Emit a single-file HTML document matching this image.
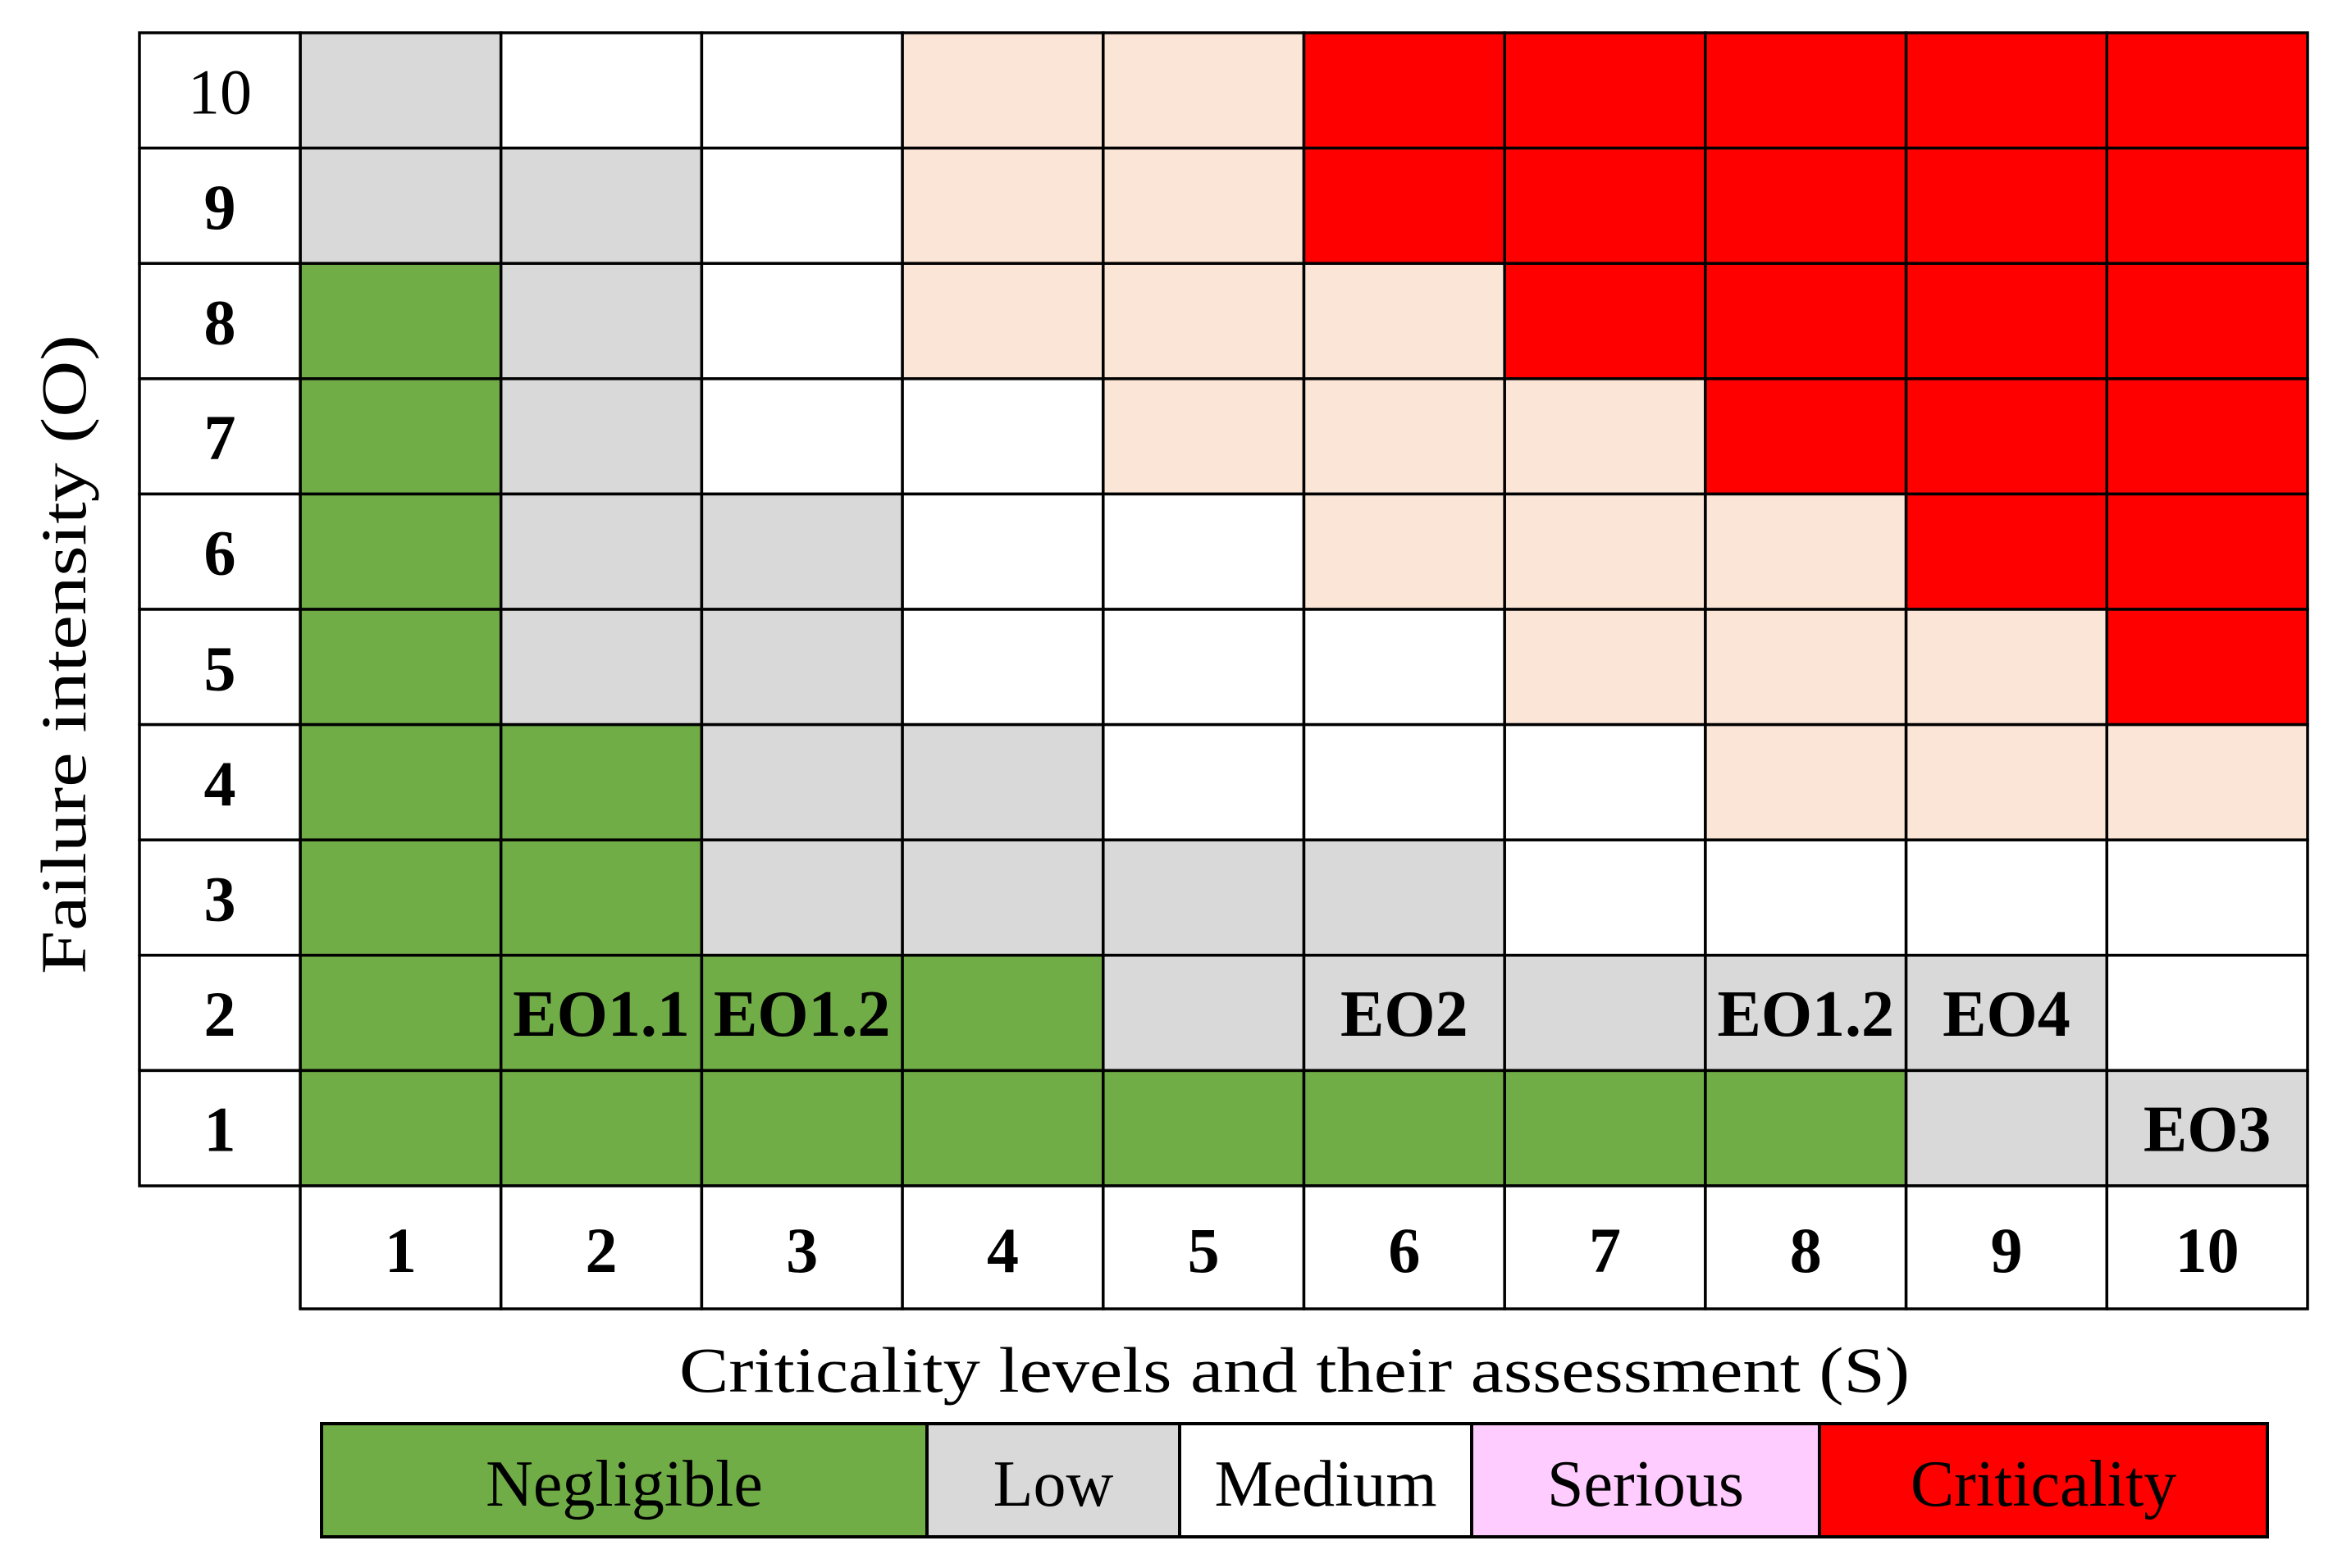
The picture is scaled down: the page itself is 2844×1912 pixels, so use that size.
<!DOCTYPE html>
<html><head><meta charset="utf-8">
<style>
html,body{margin:0;padding:0;background:#fff;}
body{width:2844px;height:1912px;position:relative;overflow:hidden;font-family:"Liberation Serif",serif;}
svg{position:absolute;left:0;top:0;}
</style></head>
<body>
<svg id="chart" width="2844" height="1912" viewBox="0 0 2844 1912"></svg>
<script>
const severityLabels = ["1","2","3","4","5","6","7","8","9","10"];
const occurrenceLabels = ["10","9","8","7","6","5","4","3","2","1"];
const matrixRows = [
 "LWWPPRRRRR",
 "LLWPPRRRRR",
 "GLWPPPRRRR",
 "GLWWPPPRRR",
 "GLLWWPPPRR",
 "GLLWWWPPPR",
 "GGLLWWWPPP",
 "GGLLLLWWWW",
 "GGGGLLLLLW",
 "GGGGGGGGLL"
];
const cellTags = [
 {o:"2",s:"2",t:"EO1.1"},{o:"2",s:"3",t:"EO1.2"},{o:"2",s:"6",t:"EO2"},
 {o:"2",s:"8",t:"EO1.2"},{o:"2",s:"9",t:"EO4"},{o:"1",s:"10",t:"EO3"}
];
const legendLabels = ["Negligible","Low","Medium","Serious","Criticality"];
const legendColors = ["#70ad47","#d9d9d9","#ffffff","#ffccff","#ff0000"];
const legendEdges = [392,1130,1438,1794,2218,2764];

const colors = {G:"#70ad47",L:"#d9d9d9",W:"#ffffff",P:"#fbe5d6",R:"#ff0000"};
const svg = document.getElementById('chart');
const NS = "http://www.w3.org/2000/svg";
const x0 = 366, x1 = 2813, y0 = 40, y1 = 1446, labelLeft = 170, xRowBottom = 1596;
const cw = (x1-x0)/severityLabels.length, ch = (y1-y0)/occurrenceLabels.length;
const xs = s => x0 + severityLabels.indexOf(s)*cw;
const ys = o => y0 + occurrenceLabels.indexOf(o)*ch;
function mk(tag, attrs){const e=document.createElementNS(NS,tag);for(const k in attrs)e.setAttribute(k,attrs[k]);svg.appendChild(e);return e;}

matrixRows.forEach((row,ri)=>{
  [...row].forEach((c,ci)=>{
    const r = mk('rect',{x:xs(severityLabels[ci]),y:ys(occurrenceLabels[ri]),width:cw,height:ch,fill:colors[c],stroke:"#000","stroke-width":3.5});
    
    
  });
});
occurrenceLabels.forEach(o=>{
  const r = mk('rect',{x:labelLeft,y:ys(o),width:x0-labelLeft,height:ch,fill:"#fff",stroke:"#000","stroke-width":3.5});
  
  
  const t = mk('text',{x:(labelLeft+x0)/2,y:ys(o)+ch/2+28,"text-anchor":"middle","font-size":78,"font-weight":o==="10"?"normal":"bold"});
  t.textContent=o;
  
  
});
severityLabels.forEach(s=>{
  const r = mk('rect',{x:xs(s),y:y1,width:cw,height:xRowBottom-y1,fill:"#fff",stroke:"#000","stroke-width":3.5});
  
  
  const t = mk('text',{x:xs(s)+cw/2,y:y1+(xRowBottom-y1)/2+30,"text-anchor":"middle","font-size":78,"font-weight":"bold"});
  t.textContent=s;
  
  
});
cellTags.forEach(c=>{
  const t = mk('text',{x:xs(c.s)+cw/2,y:ys(c.o)+ch/2+28,"text-anchor":"middle","font-size":80,"font-weight":"bold"});
  t.textContent=c.t;
  
  
});
let t = mk('text',{x:1578,y:1697,"text-anchor":"middle","font-size":78,textLength:1500,lengthAdjust:"spacingAndGlyphs"});
t.textContent="Criticality levels and their assessment (S)";


t = mk('text',{x:0,y:0,"text-anchor":"middle","font-size":78,textLength:780,lengthAdjust:"spacingAndGlyphs",transform:"translate(104,798) rotate(-90)"});
t.textContent="Failure intensity (O)";


legendLabels.forEach((l,i)=>{
  const r = mk('rect',{x:legendEdges[i],y:1736,width:legendEdges[i+1]-legendEdges[i],height:138,fill:legendColors[i],stroke:"#000","stroke-width":4});
  
  
  const tx = mk('text',{x:(legendEdges[i]+legendEdges[i+1])/2,y:1836,"text-anchor":"middle","font-size":80});
  tx.textContent=l;
  
  
});
</script>
</body></html>
